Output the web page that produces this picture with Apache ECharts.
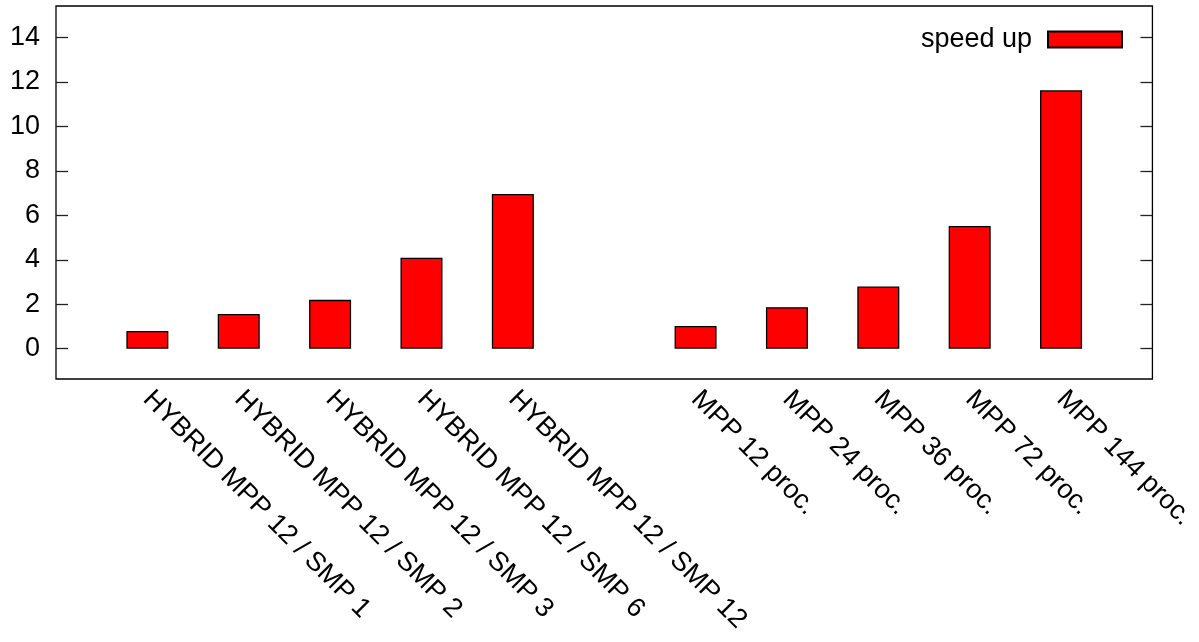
<!DOCTYPE html>
<html>
<head>
<meta charset="utf-8">
<title>speed up</title>
<script src="https://cdn.jsdelivr.net/npm/echarts@6/dist/echarts.min.js"></script>
<style>
  html, body { margin: 0; padding: 0; background: #fff; }
  #chart { width: 1199px; height: 642px; }
</style>
</head>
<body>
<div id="chart"></div>
<script>
// Run configurations, placed at x positions 0..4 and 6..10 (5 is a spacer)
const categories = [
  'HYBRID MPP 12 / SMP 1', 'HYBRID MPP 12 / SMP 2', 'HYBRID MPP 12 / SMP 3',
  'HYBRID MPP 12 / SMP 6', 'HYBRID MPP 12 / SMP 12',
  'MPP 12 proc.', 'MPP 24 proc.', 'MPP 36 proc.', 'MPP 72 proc.', 'MPP 144 proc.'
];
const positions = [0, 1, 2, 3, 4, 6, 7, 8, 9, 10];
const speedUp = [0.80, 1.56, 2.20, 4.09, 6.96, 1.02, 1.87, 2.80, 5.52, 11.63];
const yTicks = [0, 2, 4, 6, 8, 10, 12, 14];

const FONT = '"Liberation Sans", Arial, sans-serif';
const FS = 27;
const labelByPos = {};
positions.forEach((p, i) => { labelByPos[p] = categories[i]; });

const chart = echarts.init(document.getElementById('chart'), null, { renderer: 'canvas' });
chart.setOption({
  animation: false,
  backgroundColor: '#ffffff',
  textStyle: { fontFamily: FONT },
  grid: {
    left: 56, right: 45, top: 6, bottom: 263,
    show: true, borderColor: '#000', borderWidth: 1.3, backgroundColor: 'transparent'
  },
  legend: {
    data: ['speed up'],
    right: 76, top: 26,
    align: 'right',
    icon: 'rect',
    itemWidth: 74, itemHeight: 16,
    padding: 0,
    textStyle: { fontSize: FS, color: '#000', fontFamily: FONT, padding: [0, 11, 0, 0] }
  },
  xAxis: {
    type: 'value',
    min: -1, max: 11,
    splitLine: { show: false },
    axisLine: { show: false, onZero: false },
    axisTick: { show: false },
    axisLabel: {
      customValues: positions,
      rotate: -45,
      margin: 16,
      fontSize: FS,
      color: '#000',
      fontFamily: FONT,
      formatter: v => labelByPos[v] || ''
    }
  },
  yAxis: [{
    type: 'value',
    position: 'left',
    min: -1.362, max: 15.42,
    splitLine: { show: false },
    axisLine: { show: false, onZero: false },
    axisTick: { show: true, inside: true, length: 12, customValues: yTicks, lineStyle: { color: '#222', width: 1.3 } },
    axisLabel: { customValues: yTicks, margin: 16, fontSize: FS, color: '#000', fontFamily: FONT }
  }, {
    type: 'value',
    position: 'right',
    min: -1.362, max: 15.42,
    splitLine: { show: false },
    axisLine: { show: false, onZero: false },
    axisTick: { show: true, inside: true, length: 12, customValues: yTicks, lineStyle: { color: '#222', width: 1.3 } },
    axisLabel: { show: false }
  }],
  series: [{
    name: 'speed up',
    type: 'bar',
    yAxisIndex: 0,
    barWidth: 42,
    data: positions.map((p, i) => [p, speedUp[i]]),
    itemStyle: { color: '#ff0000', borderColor: '#000', borderWidth: 1.3 }
  }]
});
</script>
</body>
</html>
